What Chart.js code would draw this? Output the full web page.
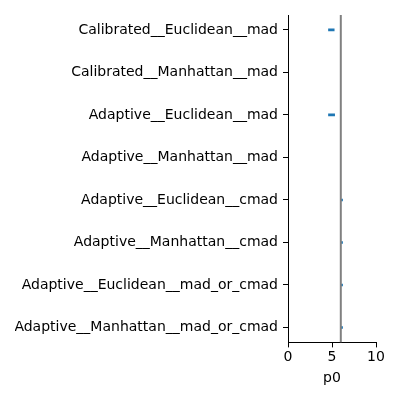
<!DOCTYPE html>
<html>
<head>
<meta charset="utf-8">
<script src="https://cdn.jsdelivr.net/npm/chart.js@4"></script>
<style>
  html, body { margin: 0; padding: 0; background: #fff; }
  #wrap { width: 400px; height: 400px; }
</style>
</head>
<body>
<div id="wrap"><canvas id="chart"></canvas></div>
<script>
const CATEGORIES = [
  "Calibrated__Euclidean__mad",
  "Calibrated__Manhattan__mad",
  "Adaptive__Euclidean__mad",
  "Adaptive__Manhattan__mad",
  "Adaptive__Euclidean__cmad",
  "Adaptive__Manhattan__cmad",
  "Adaptive__Euclidean__mad_or_cmad",
  "Adaptive__Manhattan__mad_or_cmad",
];
// interval ends for p0 (null = nothing drawn)
const P0_LOW  = [4.6, null, 4.6, null, 6.0, 6.0, 6.0, 6.0];
const P0_HIGH = [5.25, null, 5.3, null, 6.2, 6.2, 6.2, 6.2];
const REF_P0 = 6;
const X_TICKS = [0, 5, 10];

const FONT = { family: "'DejaVu Sans'", size: 14 };

const segs = [];
CATEGORIES.forEach((c, i) => {
  if (P0_LOW[i] != null) segs.push({ x: [P0_LOW[i], P0_HIGH[i]], y: i });
});

new Chart(document.getElementById("chart"), {
  data: {
    datasets: [
      {
        type: "bar",
        indexAxis: "y",
        data: segs,
        backgroundColor: "#1f77b4",
        barThickness: 2,
        xAxisID: "x",
        yAxisID: "y",
        order: 1,
      },
      {
        type: "line",
        data: [{ x: REF_P0, y: 0 }, { x: REF_P0, y: 1 }],
        borderColor: "#808080",
        borderWidth: 2,
        pointRadius: 0,
        xAxisID: "x",
        yAxisID: "yRef",
        order: 0,
      },
    ],
  },
  options: {
    responsive: true,
    maintainAspectRatio: false,
    animation: false,
    events: [],
    layout: { padding: { left: 15, right: 24, top: 15, bottom: 13 } },
    plugins: { legend: { display: false }, tooltip: { enabled: false } },
    scales: {
      x: {
        type: "linear",
        min: 0,
        max: 10,
        afterBuildTicks: (s) => { s.ticks = X_TICKS.map(v => ({ value: v })); },
        ticks: { color: "#000", font: FONT, padding: 2 },
        grid: { drawOnChartArea: false, drawTicks: true, tickLength: 5, color: "#000" },
        border: { display: true, color: "#000", width: 1 },
        title: { display: true, text: "p0", color: "#000", font: FONT, padding: { top: 2, bottom: 0 } },
      },
      y: {
        type: "linear",
        reverse: true,
        offset: false,
        min: -0.35,
        max: CATEGORIES.length - 1 + 0.35,
        afterBuildTicks: (s) => { s.ticks = CATEGORIES.map((_, i) => ({ value: i })); },
        afterFit: (s) => { s.width = 273; },
        ticks: { color: "#000", font: FONT, padding: 5, callback: (v) => CATEGORIES[v] },
        grid: { offset: false, drawOnChartArea: false, drawTicks: true, tickLength: 5, color: "#000" },
        border: { display: true, color: "#000", width: 1 },
      },
      yRef: {
        type: "linear",
        display: false,
        min: 0,
        max: 1,
      },
    },
  },
});
</script>
</body>
</html>
